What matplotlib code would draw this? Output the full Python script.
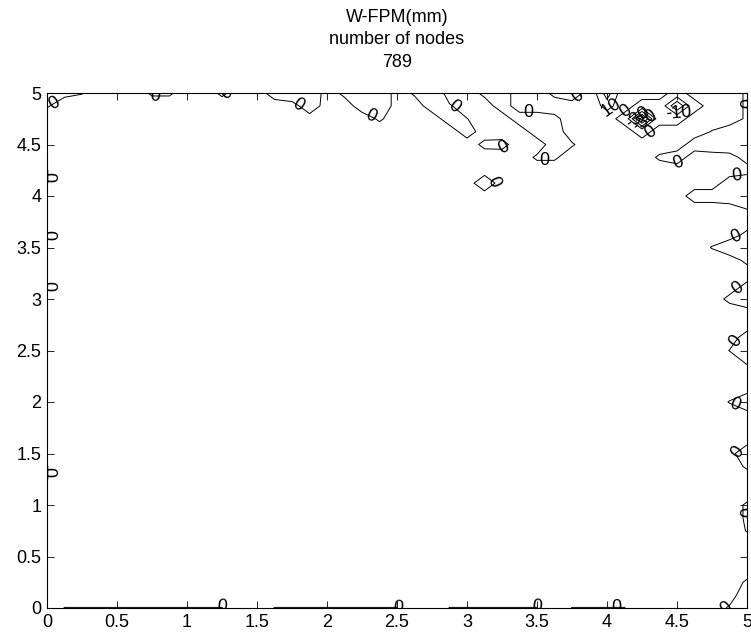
import matplotlib
matplotlib.use("Agg")
import matplotlib.pyplot as plt
import numpy as np
from matplotlib.ticker import FormatStrFormatter, MultipleLocator

plt.rcParams["font.family"] = ["Liberation Sans", "DejaVu Sans"]

# grid of nodes (0.125 spacing) and background value of the field
grid_step = 0.125
base_value = 1.0

# nodes that differ from the background: x, y, value
anom_x = [
    # top edge
    0.0, 0.125, 0.25, 0.0,
    0.75, 0.875, 1.25,
    1.625, 1.75, 1.875, 1.875,
    2.125, 2.25, 2.375, 2.25, 2.375, 2.375,
    2.625, 2.75, 2.75, 2.875, 2.875, 3.0, 3.0,
    3.125, 3.25, 3.25, 3.375, 3.5, 3.5, 3.625, 3.625, 3.625, 3.75, 3.625,
    3.125, 3.25, 3.125, 3.5,
    3.625, 3.75,
    # hot spot
    4.0, 4.0,
    4.25, 4.125, 4.375, 4.25, 4.25,
    4.5, 4.375, 4.625, 4.5, 4.5,
    # right edge
    5.0, 5.0, 5.0,
    5.0, 5.0, 5.0, 4.875, 4.875, 4.75, 4.625, 4.5, 4.375, 4.75,
    5.0, 5.0, 4.875, 4.875, 4.75, 4.625, 5.0,
    5.0, 5.0, 5.0, 4.875, 4.75,
    5.0, 5.0, 4.875,
    5.0, 5.0, 5.0, 4.875,
    5.0, 4.875,
    5.0, 5.0,
    5.0, 5.0, 5.0,
    5.0, 5.0, 5.0, 4.875,
    # bottom edge
    0.125, 0.25, 0.375, 0.5, 0.625, 0.75, 0.875, 1.0, 1.125, 1.25,
    1.625, 1.75, 1.875, 2.0, 2.125, 2.25, 2.375, 2.5,
    2.875, 3.0, 3.125, 3.25, 3.375, 3.5,
    3.75, 3.875, 4.0, 4.125,
    # left edge
    0.0, 0.0, 0.0, 0.0, 0.0, 0.0,
]
anom_y = [
    5.0, 5.0, 5.0, 4.875,
    5.0, 5.0, 5.0,
    5.0, 5.0, 5.0, 4.875,
    5.0, 5.0, 5.0, 4.875, 4.875, 4.75,
    5.0, 5.0, 4.875, 4.875, 4.75, 4.625, 4.75,
    5.0, 5.0, 4.875, 4.75, 4.75, 4.625, 4.625, 4.5, 4.375, 4.5, 4.75,
    4.5, 4.5, 4.125, 4.375,
    5.0, 5.0,
    5.0, 4.875,
    4.75, 4.75, 4.75, 4.875, 4.625,
    4.875, 4.875, 4.875, 5.0, 4.75,
    5.0, 4.875, 4.75,
    4.625, 4.5, 4.375, 4.5, 4.625, 4.5, 4.5, 4.375, 4.375, 4.625,
    4.125, 4.0, 4.125, 4.0, 4.0, 4.0, 3.875,
    3.5, 3.625, 3.375, 3.5, 3.5,
    3.0, 3.125, 3.0,
    2.5, 2.625, 2.375, 2.5,
    2.0, 2.0,
    1.5, 1.375,
    1.0, 0.875, 0.75,
    0.0, 0.125, 0.25, 0.0,
    0.0, 0.0, 0.0, 0.0, 0.0, 0.0, 0.0, 0.0, 0.0, 0.0,
    0.0, 0.0, 0.0, 0.0, 0.0, 0.0, 0.0, 0.0,
    0.0, 0.0, 0.0, 0.0, 0.0, 0.0,
    0.0, 0.0, 0.0, 0.0,
    4.125, 4.25, 3.625, 3.125, 1.375, 1.25,
]
anom_v = [
    -3.0, -0.5, -0.1, -0.2,
    -0.3, -0.3, -0.4,
    -1.0, -2.0, -2.0, -1.5,
    -0.5, -2.0, -2.0, -1.0, -2.0, -0.3,
    -0.3, -2.0, -1.0, -0.2, -1.0, -1.0, -0.05,
    -0.5, -1.0, -1.0, -1.0, -1.0, -1.0, -1.0, -1.0, -0.3, -0.2, -0.5,
    -0.5, -0.6, -1.5, -0.3,
    -0.5, -1.5,
    25.0, 15.0,
    -45.0, -1.0, -1.0, -1.0, -1.0,
    -30.0, -1.0, -1.0, -1.0, -1.0,
    -0.3, -0.3, -0.3,
    -2.0, -2.0, -1.0, -2.0, -1.0, -1.5, -1.0, -1.0, -0.3, -0.1,
    -2.0, -2.0, -1.0, -1.5, -1.0, -1.0, -0.05,
    -2.0, -0.5, -0.5, -1.5, -0.1,
    -2.0, -0.5, -0.5,
    -2.0, -1.0, -0.1, -0.05,
    -2.0, -0.1,
    -2.0, -0.3,
    -0.3, -0.3, -0.1,
    -2.0, -1.5, -0.3, -0.25,
    -0.05, -0.05, -0.05, -0.05, -0.05, -0.05, -0.05, -0.05, -0.05, -0.05,
    -0.05, -0.05, -0.05, -0.05, -0.05, -0.05, -0.05, -0.05,
    -0.05, -0.05, -0.05, -0.05, -0.05, -0.05,
    -0.05, -0.05, -0.05, -0.05,
    -0.05, -0.05, -0.05, -0.05, -0.05, -0.05,
]

levels = [-40, -30, -20, -10, 0, 10, 20]

# where the contour labels sit
label_xy = [
    (0.05, 4.9), (0.77, 4.98), (1.31, 4.98), (1.8, 4.9), (2.35, 4.88),
    (2.9, 4.86), (3.44, 4.83), (3.81, 4.93), (3.29, 4.42), (3.2, 4.15),
    (3.55, 4.3),
    (4.02, 4.88), (4.12, 4.84), (4.31, 4.62), (4.52, 4.78), (4.22, 4.77),
    (4.27, 4.74),
    (4.96, 4.9), (4.54, 4.27), (4.93, 4.19), (4.93, 3.59), (4.96, 3.06),
    (4.94, 2.57), (4.92, 2.0), (4.94, 1.5), (4.97, 0.93),
    (1.25, 0.01), (2.55, 0.01), (3.5, 0.01), (4.07, 0.01), (4.77, 0.01),
    (0.02, 4.18), (0.02, 3.6), (0.02, 3.1), (0.02, 1.32),
]

n = int(round(5 / grid_step)) + 1
xg = np.linspace(0, 5, n)
yg = np.linspace(0, 5, n)
Z = np.full((n, n), base_value)
for x, y, v in zip(anom_x, anom_y, anom_v):
    Z[int(round(y / grid_step)), int(round(x / grid_step))] = v

fig = plt.figure(figsize=(7.51, 6.37), dpi=100)
ax = fig.add_axes([47 / 751, 29 / 637, 700 / 751, 515 / 637])

cs = ax.contour(xg, yg, Z, levels=levels, colors="k", linewidths=0.7,
                negative_linestyles="solid")
labels = ax.clabel(cs, manual=label_xy, fmt="%d", fontsize=13, inline=False, colors="k")
for t in cs.labelTexts:
    t.set_clip_on(True)

ax.set_xlim(0, 5)
ax.set_ylim(0, 5)
ax.xaxis.set_major_locator(MultipleLocator(0.5))
ax.yaxis.set_major_locator(MultipleLocator(0.5))
ax.xaxis.set_major_formatter(FormatStrFormatter("%g"))
ax.yaxis.set_major_formatter(FormatStrFormatter("%g"))
ax.tick_params(direction="in", top=True, right=True, length=5, width=0.6,
               labelsize=13, colors="k", pad=4)
for s in ax.spines.values():
    s.set_linewidth(0.8)

ax.set_title("W-FPM(mm)\nnumber of nodes\n789", fontsize=13, linespacing=1.4, pad=19)

fig.savefig("out.png", dpi=100)
